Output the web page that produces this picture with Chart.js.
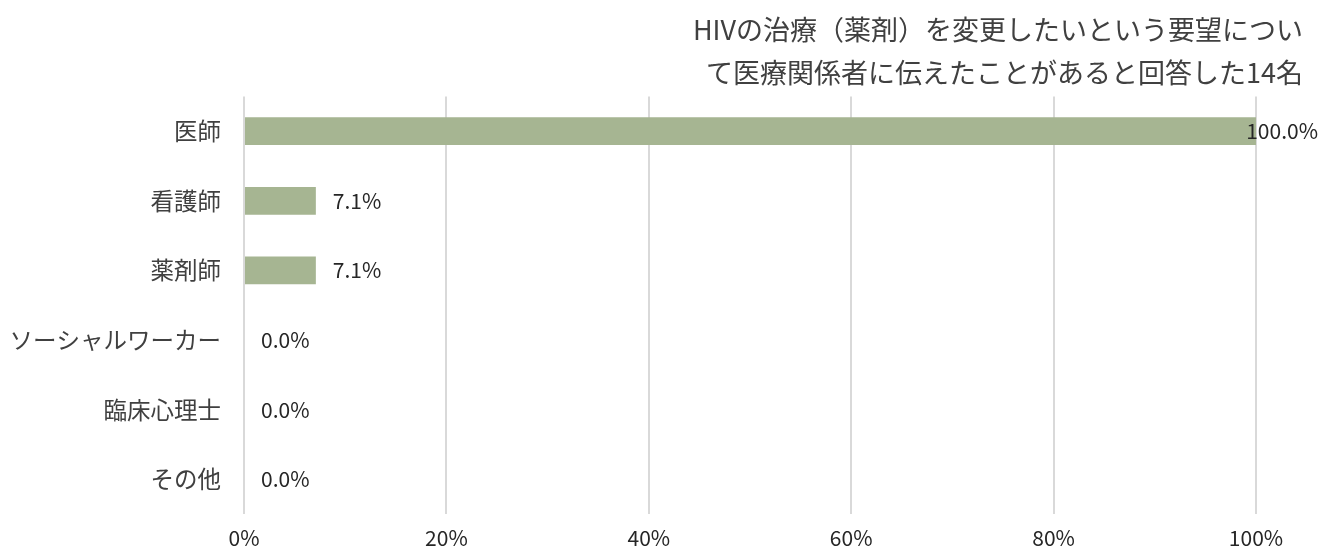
<!DOCTYPE html>
<html>
<head>
<meta charset="utf-8">
<script src="https://cdn.jsdelivr.net/npm/chart.js@4.4.1/dist/chart.umd.min.js"></script>
<style>
  html, body { margin: 0; padding: 0; background: #fff; }
  #wrap { width: 1335px; height: 558px; }
</style>
</head>
<body>
<div id="wrap"><canvas id="chart"></canvas></div>
<script>
const categories = ["医師", "看護師", "薬剤師", "ソーシャルワーカー", "臨床心理士", "その他"];
const shares = [100.0, 7.1, 7.1, 0.0, 0.0, 0.0];
const xTicks = [0, 20, 40, 60, 80, 100];
const titleLines = ["HIVの治療（薬剤）を変更したいという要望につい", "て医療関係者に伝えたことがあると回答した14名"];

const FONT = "'Noto Sans CJK JP', 'Noto Sans', sans-serif";

// value labels to the right of each bar, kept inside the canvas
const valueLabels = {
  id: "valueLabels",
  afterDatasetsDraw(chart) {
    const ctx = chart.ctx;
    const meta = chart.getDatasetMeta(0);
    ctx.save();
    ctx.font = "21px " + FONT;
    ctx.fillStyle = "#262626";
    ctx.textBaseline = "middle";
    ctx.textAlign = "left";
    meta.data.forEach((bar, i) => {
      const txt = shares[i].toFixed(1) + "%";
      const w = ctx.measureText(txt).width;
      let x = bar.x + 17;
      if (x + w > chart.width - 17) x = chart.width - 17 - w;
      ctx.fillText(txt, x, bar.y);
    });
    ctx.restore();
  }
};

new Chart(document.getElementById("chart"), {
  type: "bar",
  data: {
    labels: categories,
    datasets: [{
      data: shares,
      backgroundColor: "#a6b592",
      borderWidth: 0,
      barPercentage: 0.4,
      categoryPercentage: 1.0
    }]
  },
  options: {
    indexAxis: "y",
    responsive: true,
    maintainAspectRatio: false,
    animation: false,
    layout: { padding: { left: 8, right: 32, top: 8, bottom: 9 } },
    plugins: {
      legend: { display: false },
      tooltip: { enabled: false },
      title: {
        display: true,
        text: titleLines,
        align: "end",
        color: "#404040",
        font: { family: FONT, size: 27, weight: "normal", lineHeight: 1.6 },
        padding: { top: 0, bottom: 2 }
      }
    },
    scales: {
      x: {
        min: 0,
        max: 100,
        afterBuildTicks(scale) {
          scale.ticks = xTicks.map(v => ({ value: v }));
        },
        afterFit(scale) {
          scale.paddingRight = 79;
          scale.height = 35;
        },
        ticks: {
          padding: 11,
          color: "#262626",
          font: { family: FONT, size: 21 },
          callback: v => v + "%"
        },
        grid: { color: "#d9d9d9", lineWidth: 2, drawTicks: false },
        border: { display: false }
      },
      y: {
        afterFit(scale) {
          scale.width = 236;
        },
        ticks: {
          padding: 23,
          color: "#404040",
          font: { family: FONT, size: 23.5 }
        },
        grid: { display: false, drawTicks: false },
        border: { display: false }
      }
    }
  },
  plugins: [valueLabels]
});
</script>
</body>
</html>
